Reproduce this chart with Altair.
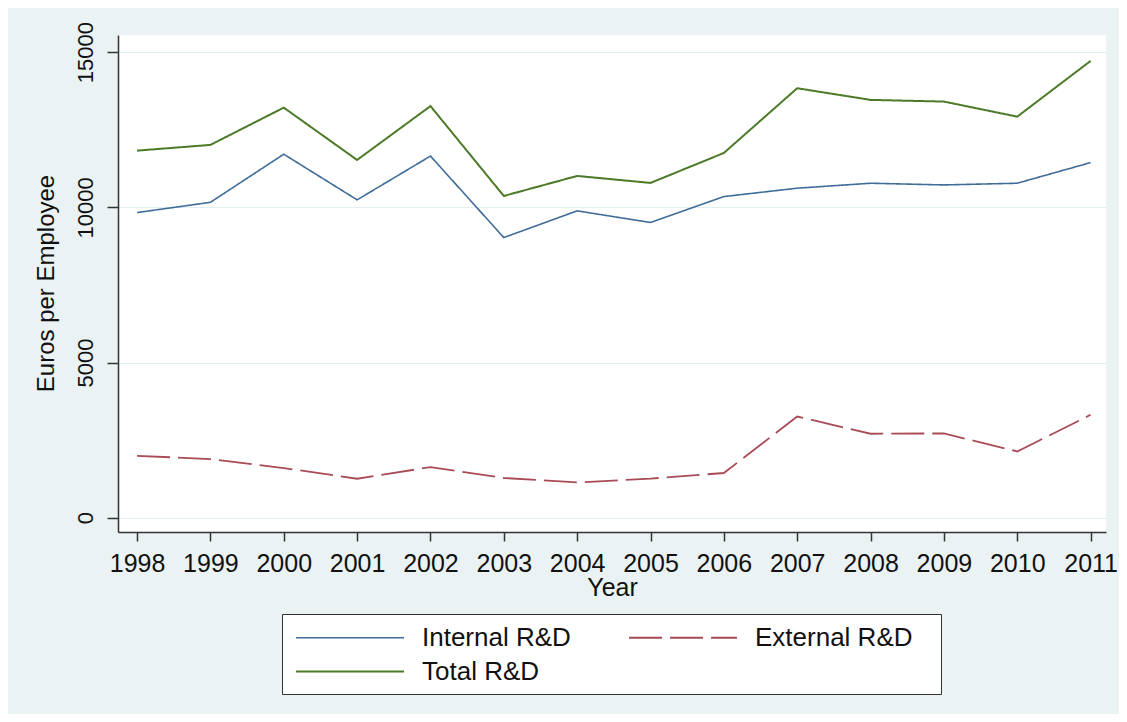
import altair as alt
import pandas as pd

years = list(range(1998, 2012))
internal = [9830, 10160, 11710, 10240, 11650, 9025, 9885, 9510, 10345, 10615, 10775, 10720, 10775, 11440]
external = [1995, 1890, 1600, 1255, 1630, 1280, 1135, 1260, 1440, 3260, 2705, 2715, 2135, 3315]
total = [11825, 12010, 13210, 11525, 13260, 10365, 11010, 10785, 11750, 13835, 13460, 13405, 12920, 14715]

series_names = ["Internal R&D", "External R&D", "Total R&D"]
series_colors = ["#3f6c99", "#a84b57", "#4d7a28"]
series_dash = [[1, 0], [33, 8], [1, 0]]
series_width = [1.6, 2.0, 3.0]

rows = []
for name, vals in zip(series_names, [internal, external, total]):
    for yr, v in zip(years, vals):
        rows.append({"Year": yr, "Value": v, "Series": name})
df = pd.DataFrame(rows)

legend = alt.Legend(
    title=None,
    orient="none",
    legendX=164,
    legendY=579,
    direction="horizontal",
    columns=2,
    symbolType="M-0.7,0H7.3",
    symbolSize=729,
    labelFontSize=26,
    labelFont="Liberation Sans",
    labelColor="#111111",
    labelOffset=102,
    labelExpr="datum.label + '\u2800'",
    columnPadding=34,
    rowPadding=6,
    padding=9,
    strokeColor="#333333",
    fillColor="white",
    labelLimit=400,
)

chart = alt.Chart(df).mark_line().encode(
    x=alt.X(
        "Year:Q",
        scale=alt.Scale(domain=[1997.74, 2011.21], nice=False, zero=False),
        axis=alt.Axis(
            values=years,
            format="d",
            tickSize=9,
            labelFontSize=25,
            labelPadding=30,
            labelBaseline="alphabetic",
            labelFlush=False,
            labelOverlap=False,
            labelBound=False,
            title="Year",
            titleFontSize=25,
            titleFontWeight="normal",
            titleX=494,
            titleY=63,
            titleBaseline="alphabetic",
            titleAlign="center",
            grid=False,
        ),
    ),
    y=alt.Y(
        "Value:Q",
        scale=alt.Scale(domain=[-460, 15550], nice=False, zero=False),
        axis=alt.Axis(
            values=[0, 5000, 10000, 15000],
            format="d",
            tickSize=11,
            labelAngle=270,
            labelAlign="center",
            labelBaseline="alphabetic",
            labelPadding=15,
            labelFontSize=22,
            labelFlush=False,
            labelOverlap=False,
            title="Euros per Employee",
            titleFontSize=24,
            titleFontWeight="normal",
            titleAngle=270,
            titleX=-65,
            titleY=248,
            titleAlign="center",
            titleBaseline="alphabetic",
            grid=True,
            gridColor="#e3eef0",
            gridWidth=1.2,
        ),
    ),
    color=alt.Color(
        "Series:N",
        sort=series_names,
        scale=alt.Scale(domain=series_names, range=series_colors),
        legend=legend,
    ),
    strokeDash=alt.StrokeDash(
        "Series:N",
        sort=series_names,
        scale=alt.Scale(domain=series_names, range=series_dash),
        legend=legend,
    ),
    strokeWidth=alt.StrokeWidth(
        "Series:N",
        sort=series_names,
        scale=alt.Scale(domain=series_names, range=series_width),
        legend=legend,
    ),
).properties(
    width=988,
    height=497,
    padding={"left": 110, "top": 27, "right": 13, "bottom": 182},
    autosize=alt.AutoSizeParams(type="none"),
    background="#EAF2F3",
).configure(
    font="Liberation Sans",
).configure_axis(
    domainColor="#333333",
    domainWidth=1.5,
    tickColor="#333333",
    tickWidth=1.5,
    labelColor="#111111",
    titleColor="#111111",
).configure_view(
    fill="white",
    stroke=None,
)

chart.save("out.html", embed_options={"renderer": "svg", "actions": False})
